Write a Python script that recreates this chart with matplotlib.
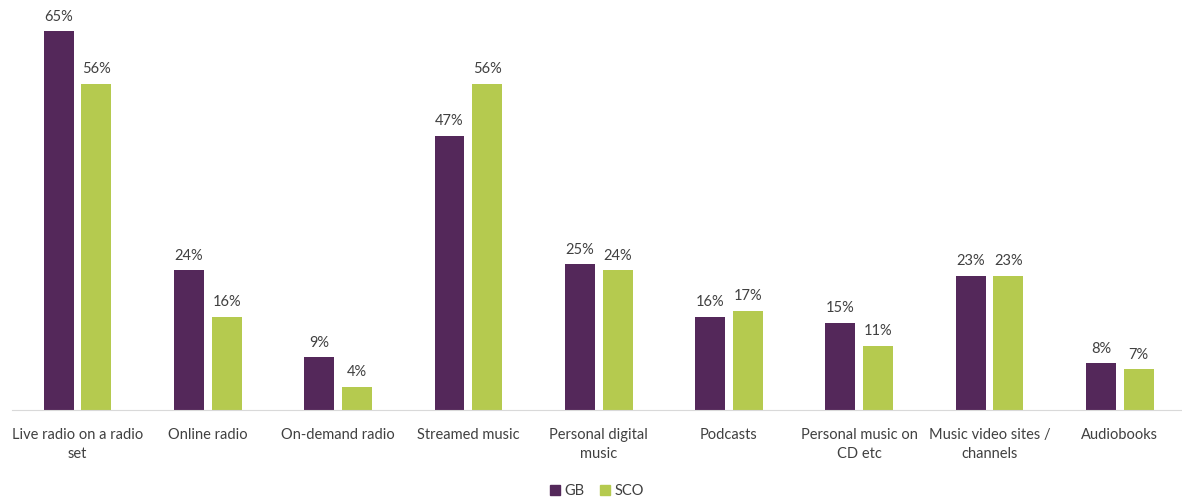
import numpy as np
import matplotlib.pyplot as plt
from matplotlib.patches import Patch

plt.rcParams['font.family'] = ['Lato', 'DejaVu Sans']

# Data
categories = ["Live radio on a radio\nset", "Online radio", "On-demand radio", "Streamed music",
              "Personal digital\nmusic", "Podcasts", "Personal music on\nCD etc",
              "Music video sites /\nchannels", "Audiobooks"]
gb = [65, 24, 9, 47, 25, 16, 15, 23, 8]
sco = [56, 16, 4, 56, 24, 17, 11, 23, 7]

purple = "#54285A"
green = "#B5CA4F"
text_col = "#404040"

fig = plt.figure(figsize=(11.82, 5.03), dpi=100)
ax = fig.add_axes([0.0105, 0.185, 0.992, 0.811])

x = np.arange(len(categories))
w = 0.23
off = 0.145
b1 = ax.bar(x - off, gb, w, color=purple, label="GB")
b2 = ax.bar(x + off, sco, w, color=green, label="SCO")

for bars, vals in ((b1, gb), (b2, sco)):
    for b, v in zip(bars, vals):
        ax.text(b.get_x() + b.get_width() / 2, v + 1.3, f"{v}%", ha="center", va="bottom",
                fontsize=10.5, color=text_col)

ax.set_xlim(-0.5, len(categories) - 0.5)
ax.set_ylim(0, 70)
ax.set_xticks(x)
ax.set_xticklabels(categories, fontsize=10.5, color=text_col, linespacing=1.45)
ax.tick_params(axis="x", length=0, pad=13)
ax.set_yticks([])
for s in ("top", "right", "left"):
    ax.spines[s].set_visible(False)
ax.spines["bottom"].set_color("#D9D9D9")

handles = [Patch(color=purple, label="GB"), Patch(color=green, label="SCO")]
fig.legend(handles=handles, loc="center", bbox_to_anchor=(0.505, 0.024), ncol=2, frameon=False,
           fontsize=10.5, handlelength=0.7, handleheight=0.7, handletextpad=0.3, columnspacing=1.0,
           labelcolor=text_col)

fig.savefig("out.png", dpi=100)
